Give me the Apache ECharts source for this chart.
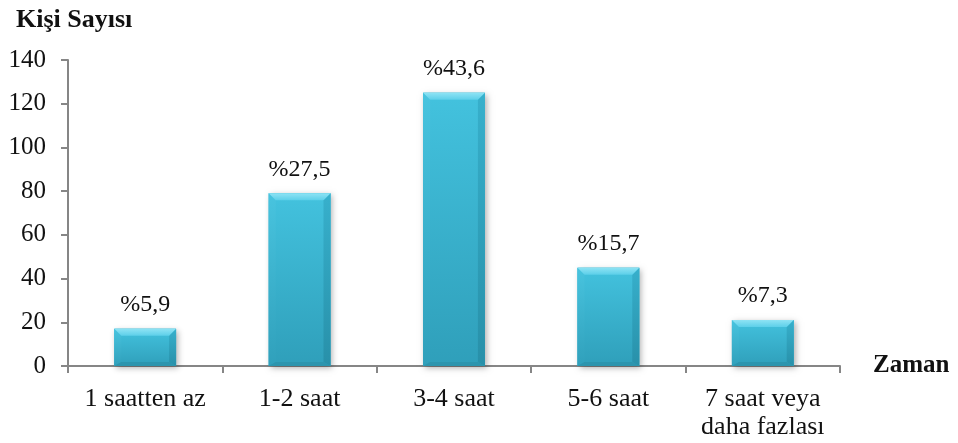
<!DOCTYPE html>
<html>
<head>
<meta charset="utf-8">
<script src="https://cdn.jsdelivr.net/npm/echarts@6/dist/echarts.min.js"></script>
<style>
  html, body { margin: 0; padding: 0; background: #fff; }
  #chart { width: 958px; height: 443px; }
</style>
</head>
<body>
<div id="chart"></div>
<script>
// Daily time spent: number of people per time range, with share labels
const categories = ['1 saatten az', '1-2 saat', '3-4 saat', '5-6 saat', '7 saat veya\ndaha fazlası'];
const counts = [17, 79, 125, 45, 21];
const percentLabels = ['%5,9', '%27,5', '%43,6', '%15,7', '%7,3'];
const yTicks = { min: 0, max: 140, interval: 20 };

const FONT = '"Liberation Serif", "Times New Roman", serif';
const AXIS_COLOR = '#868686';

const chart = echarts.init(document.getElementById('chart'), null, { renderer: 'canvas' });

function renderBevelBar(params, api) {
  const idx = api.value(0);
  const val = api.value(1);
  const top = api.coord([idx, val]);
  const base = api.coord([idx, 0]);
  const band = api.size([1, 0])[0];
  const w = band * 0.4;
  const x0 = top[0] - w / 2, x1 = top[0] + w / 2;
  const y0 = top[1], y1 = base[1];
  const b = Math.min(7, (y1 - y0) / 3);
  const bb = Math.min(4, (y1 - y0) / 5);
  const lg = (stops) => new echarts.graphic.LinearGradient(0, 0, 0, 1, stops);
  return {
    type: 'group',
    children: [
      { // soft drop shadow
        type: 'rect',
        shape: { x: x0, y: y0, width: w, height: y1 - y0 },
        style: { fill: '#3ab6d3', shadowBlur: 6, shadowOffsetX: 2, shadowOffsetY: 2, shadowColor: 'rgba(0,0,0,0.3)' }
      },
      { // front face
        type: 'rect',
        shape: { x: x0, y: y0, width: w, height: y1 - y0 },
        style: { fill: lg([{ offset: 0, color: '#43c2de' }, { offset: 1, color: '#2f9fba' }]) }
      },
      { // left bevel
        type: 'polygon',
        shape: { points: [[x0, y0], [x0 + b, y0 + b], [x0 + b, y1 - bb], [x0, y1]] },
        style: { fill: lg([{ offset: 0, color: '#48c4df' }, { offset: 1, color: '#30a0bb' }]) }
      },
      { // right bevel
        type: 'polygon',
        shape: { points: [[x1, y0], [x1 - b, y0 + b], [x1 - b, y1 - bb], [x1, y1]] },
        style: { fill: lg([{ offset: 0, color: '#37b0cc' }, { offset: 1, color: '#2890a9' }]) }
      },
      { // bottom bevel
        type: 'polygon',
        shape: { points: [[x0, y1], [x0 + b, y1 - bb], [x1 - b, y1 - bb], [x1, y1]] },
        style: { fill: '#2c95ae' }
      },
      { // top bevel
        type: 'polygon',
        shape: { points: [[x0, y0], [x1, y0], [x1 - b, y0 + b], [x0 + b, y0 + b]] },
        style: { fill: lg([{ offset: 0, color: '#8ee3f4' }, { offset: 1, color: '#5ccfe9' }]) }
      },
      { // share label
        type: 'text',
        x: top[0],
        y: y0 - 12,
        style: {
          text: percentLabels[idx],
          fill: '#111',
          font: '24px ' + FONT,
          align: 'center',
          verticalAlign: 'bottom'
        }
      }
    ]
  };
}

const option = {
  animation: false,
  title: {
    text: 'Kişi Sayısı',
    left: 11,
    top: 2,
    textStyle: { fontFamily: FONT, fontSize: 26, fontWeight: 'bold', color: '#111' }
  },
  grid: { left: 68, right: 118, top: 60, bottom: 77, containLabel: false },
  xAxis: {
    type: 'category',
    data: categories,
    name: 'Zaman',
    nameLocation: 'end',
    nameGap: 33,
    nameTextStyle: { fontFamily: FONT, fontSize: 25, fontWeight: 'bold', color: '#111', verticalAlign: 'middle' },
    axisLine: { lineStyle: { color: AXIS_COLOR, width: 2 } },
    axisTick: { show: true, length: 7, alignWithLabel: false, lineStyle: { color: AXIS_COLOR, width: 2 } },
    axisLabel: { fontFamily: FONT, fontSize: 26, color: '#111', margin: 19, lineHeight: 28, interval: 0 }
  },
  yAxis: {
    type: 'value',
    min: yTicks.min,
    max: yTicks.max,
    interval: yTicks.interval,
    axisLine: { show: true, lineStyle: { color: AXIS_COLOR, width: 2 } },
    axisTick: { show: true, length: 7, lineStyle: { color: AXIS_COLOR, width: 2 } },
    splitLine: { show: false },
    axisLabel: { fontFamily: FONT, fontSize: 25, color: '#111', margin: 22 }
  },
  series: [{
    type: 'custom',
    renderItem: renderBevelBar,
    encode: { x: 0, y: 1 },
    data: counts.map((v, i) => [i, v]),
    z: 1
  }]
};

chart.setOption(option);
</script>
</body>
</html>
